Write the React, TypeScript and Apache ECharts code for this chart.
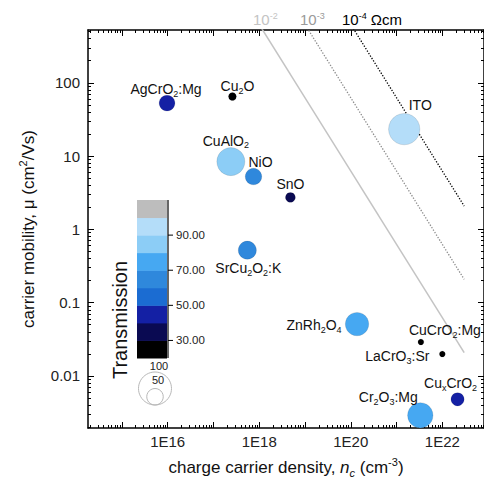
import React, { useEffect, useRef } from 'react';
import * as echarts from 'echarts';

// ---------------- data ----------------
const materials = ['AgCrO2:Mg', 'Cu2O', 'CuAlO2', 'NiO', 'SnO', 'ITO', 'SrCu2O2:K', 'ZnRh2O4', 'CuCrO2:Mg', 'LaCrO3:Sr', 'CuxCrO2', 'Cr2O3:Mg'];
const labelTexts = ['AgCrO{s|2}:Mg', 'Cu{s|2}O', 'CuAlO{s|2}', 'NiO', 'SnO', 'ITO', 'SrCu{s|2}O{s|2}:K', 'ZnRh{s|2}O{s|4}', 'CuCrO{s|2}:Mg', 'LaCrO{s|3}:Sr', 'Cu{s|x}CrO{s|2}', 'Cr{s|2}O{s|3}:Mg'];
const density = [9.7e15, 2.6e17, 2.4e17, 7.5e17, 4.8e18, 1.47e21, 5.5e17, 1.37e20, 3.4e21, 1.0e22, 2.15e22, 3.3e21]; // cm^-3
const mobility = [52.8, 65, 8.4, 5.25, 2.73, 23.3, 0.52, 0.051, 0.029, 0.0199, 0.0048, 0.0029]; // cm2/Vs
const transmission = [45, 25, 85, 62, 35, 95, 62, 75, 25, 25, 45, 75]; // %
const sizeValue = [48, 24, 85, 50, 30, 95, 55, 71, 18, 18, 40, 77];

const resistivity = [1e-2, 1e-3, 1e-4]; // Ohm cm
const resistivityLabels = ['10{sup|-2}', '10{sup|-3}', '10{sup|-4} Ωcm'];
const lineDensityRange = [1e17, 3e22];
const ELEMENTARY_CHARGE = 1.602e-19;

const xTickValues = [16, 18, 20, 22];
const xTickLabels = ['1E16', '1E18', '1E20', '1E22'];
const yTickValues = [-2, -1, 0, 1, 2];
const yTickLabels = ['0.01', '0.1', '1', '10', '100'];

const colorBounds = [20, 30, 40, 50, 60, 70, 80, 90, 100, 110];
const colorbarTickValues = [30, 50, 70, 90];
const colorbarTickLabels = ['30.00', '50.00', '70.00', '90.00'];
const sizeLegendValues = [100, 50];
const sizeLegendLabels = ['100', '50'];

// ---------------- styles ----------------
const FONT = "'Liberation Sans', Arial, Helvetica, sans-serif";
const bandColors = ['#000000', '#0a0a52', '#1420a4', '#1b6cd2', '#2f88dc', '#46a8f2', '#8ccdf6', '#b4ddf9', '#bdbdbd'];
const lineColors = ['#c4c4c4', '#8a8a8a', '#000000'];
const labelColors = ['#c4c4c4', '#9a9a9a', '#000000'];
const labelOffsets: number[][] = [
  [-1, -14], [5, -10], [-5, -21], [7, -15], [0, -13], [16, -24],
  [1, 18], [-43, 1], [24, -12], [-45, 2], [-7, -16], [-32, -18],
];
const resLabelPos: number[][] = [[253, 19], [300, 19], [342, 19]];
const SIZE_SCALE = 0.33;

const X_MIN = 14.26, X_MAX = 22.91;
const Y_MIN = -2.71, Y_MAX = 2.72;
const GRID = { left: 88, top: 30, width: 398, height: 398 };

const log10 = (v: number) => Math.log10(v);

function decadeMinors(lo: number, hi: number) {
  const out: number[] = [];
  for (let d = Math.floor(lo); d <= Math.ceil(hi); d++) {
    for (let k = 2; k <= 9; k++) {
      const v = d + Math.log10(k);
      if (v > lo && v < hi) out.push(v);
    }
  }
  return out;
}
function decadeMajors(lo: number, hi: number) {
  const out: number[] = [];
  for (let d = Math.ceil(lo); d <= Math.floor(hi); d++) out.push(d);
  return out;
}

export default function App() {
  const ref = useRef<HTMLDivElement>(null);
  useEffect(() => {
    if (!ref.current) return;
    const chart = echarts.init(ref.current, undefined, { renderer: 'svg' });

    const xMaj = decadeMajors(X_MIN, X_MAX);
    const xMin = decadeMinors(X_MIN, X_MAX);
    const yMaj = decadeMajors(Y_MIN, Y_MAX);
    const yMin = decadeMinors(Y_MIN, Y_MAX);

    const mkX = (position: string, ticks: number[], len: number, showLine: boolean, withLabels: boolean, extra: any = {}) => ({
      type: 'value', position, min: X_MIN, max: X_MAX, gridIndex: 0,
      axisLine: { show: showLine, onZero: false, lineStyle: { color: '#000', width: 1.5 } },
      axisTick: { show: true, inside: true, length: len, customValues: ticks, lineStyle: { color: '#000', width: 1 } },
      axisLabel: withLabels
        ? { show: true, customValues: xTickValues, formatter: (v: number) => xTickLabels[xTickValues.indexOf(Math.round(v))] ?? '', fontSize: 15, fontFamily: FONT, color: '#222', margin: 6 }
        : { show: false },
      splitLine: { show: false },
      ...extra,
    });
    const mkY = (position: string, ticks: number[], len: number, showLine: boolean, withLabels: boolean, extra: any = {}) => ({
      type: 'value', position, min: Y_MIN, max: Y_MAX, gridIndex: 0,
      axisLine: { show: showLine, onZero: false, lineStyle: { color: '#000', width: 1.5 } },
      axisTick: { show: true, inside: true, length: len, customValues: ticks, lineStyle: { color: '#000', width: 1 } },
      axisLabel: withLabels
        ? { show: true, customValues: yTickValues, formatter: (v: number) => yTickLabels[yTickValues.indexOf(Math.round(v))] ?? '', fontSize: 15, fontFamily: FONT, color: '#222', margin: 8 }
        : { show: false },
      splitLine: { show: false },
      ...extra,
    });

    const xAxes = [
      mkX('bottom', xMaj, 6, true, true, {
        name: 'charge carrier density, {i|n}{ic|c} (cm{sup|-3})',
        nameLocation: 'middle', nameGap: 28,
        nameTextStyle: {
          fontSize: 17, fontFamily: FONT, color: '#111', lineHeight: 22,
          rich: {
            i: { fontSize: 17, fontFamily: FONT, fontStyle: 'italic', color: '#111', lineHeight: 22 },
            ic: { fontSize: 11, fontFamily: FONT, fontStyle: 'italic', color: '#111', lineHeight: 10, verticalAlign: 'bottom' },
            sup: { fontSize: 11, fontFamily: FONT, color: '#111', lineHeight: 10, verticalAlign: 'top' },
          },
        },
      }),
      mkX('bottom', xMin, 3, false, false),
      mkX('top', xMaj, 6, true, false),
      mkX('top', xMin, 3, false, false),
    ];
    const yAxes = [
      mkY('left', yMaj, 6, true, true, {
        name: 'carrier mobility, μ (cm{sup|2}/Vs)',
        nameLocation: 'middle', nameGap: 30, nameRotate: 90,
        nameTextStyle: {
          fontSize: 17, fontFamily: FONT, color: '#111', lineHeight: 22,
          rich: {
            sup: { fontSize: 11, fontFamily: FONT, color: '#111', lineHeight: 10, verticalAlign: 'top' },
          },
        },
      }),
      mkY('left', yMin, 3, false, false),
      mkY('right', yMaj, 6, true, false),
      mkY('right', yMin, 3, false, false),
    ];

    const lineSeries = resistivity.map((rho, i) => ({
      type: 'line',
      xAxisIndex: 0, yAxisIndex: 0,
      name: resistivityLabels[i],
      showSymbol: false, symbol: 'none', silent: true, z: 1,
      clip: true,
      data: lineDensityRange.map((n) => [log10(n), log10(1 / (ELEMENTARY_CHARGE * rho * n))]),
      lineStyle: {
        color: lineColors[i],
        width: i === 0 ? 1.5 : 1.3,
        type: i === 0 ? 'solid' : [1.3, 1.6],
      },
    }));

    const scatter = {
      type: 'scatter',
      xAxisIndex: 0, yAxisIndex: 0, z: 3,
      symbol: 'circle',
      symbolSize: (v: number[]) => v[3] * SIZE_SCALE,
      itemStyle: { borderColor: 'rgba(0,0,0,0.18)', borderWidth: 0.6, opacity: 1 },
      label: {
        show: true,
        position: 'inside',
        formatter: (p: any) => labelTexts[p.dataIndex],
        fontSize: 14, fontFamily: FONT, color: '#111', lineHeight: 18,
        rich: {
          s: { fontSize: 9, fontFamily: FONT, color: '#111', lineHeight: 10, verticalAlign: 'bottom' },
        },
      },
      labelLayout: (p: any) => ({
        dx: labelOffsets[p.dataIndex][0],
        dy: labelOffsets[p.dataIndex][1],
        hideOverlap: false,
      }),
      data: density.map((n, i) => ({
        name: materials[i],
        value: [log10(n), log10(mobility[i]), transmission[i], sizeValue[i]],
      })),
    };

    // colorbar graphics
    const cbX = 137, cbW = 30, cbTop = 200, cbBottom = 358;
    const nBands = bandColors.length;
    const bandH = (cbBottom - cbTop) / nBands;
    const valToY = (v: number) => cbBottom - ((v - colorBounds[0]) / 10) * bandH;
    const graphics: any[] = [];
    bandColors.forEach((c, i) => {
      graphics.push({
        type: 'rect', silent: true,
        shape: { x: cbX, y: cbBottom - (i + 1) * bandH, width: cbW, height: bandH + 0.5 },
        style: { fill: c },
      });
    });
    graphics.push({ type: 'line', silent: true, shape: { x1: cbX + cbW + 1, y1: cbTop, x2: cbX + cbW + 1, y2: cbBottom }, style: { stroke: '#000', lineWidth: 1.2 } });
    colorbarTickValues.forEach((v, i) => {
      const y = valToY(v);
      graphics.push({ type: 'line', silent: true, shape: { x1: cbX + cbW + 1, y1: y, x2: cbX + cbW + 6, y2: y }, style: { stroke: '#000', lineWidth: 1 } });
      graphics.push({ type: 'text', silent: true, x: cbX + cbW + 9, y, style: { text: colorbarTickLabels[i], fontSize: 11.5, fontFamily: FONT, fill: '#222', textAlign: 'left', textVerticalAlign: 'middle' } });
    });
    graphics.push({ type: 'text', silent: true, x: 120, y: 320, rotation: Math.PI / 2, style: { text: 'Transmission', fontSize: 20, fontFamily: FONT, fill: '#111', textAlign: 'center', textVerticalAlign: 'middle' } });

    // size legend
    const legendCx = 155, legendBottom = 405;
    sizeLegendValues.forEach((v) => {
      const r = (v * SIZE_SCALE) / 2;
      graphics.push({ type: 'circle', silent: true, shape: { cx: legendCx, cy: legendBottom - r, r }, style: { fill: 'none', stroke: '#b8b8b8', lineWidth: 1 } });
    });
    graphics.push({ type: 'text', silent: true, x: 159, y: 366, style: { text: sizeLegendLabels[0], fontSize: 11, fontFamily: FONT, fill: '#222', textAlign: 'center', textVerticalAlign: 'middle' } });
    graphics.push({ type: 'text', silent: true, x: 158, y: 380, style: { text: sizeLegendLabels[1], fontSize: 11, fontFamily: FONT, fill: '#222', textAlign: 'center', textVerticalAlign: 'middle' } });

    // resistivity labels
    resistivityLabels.forEach((t, i) => {
      graphics.push({
        type: 'text', silent: true, x: resLabelPos[i][0], y: resLabelPos[i][1],
        style: {
          text: t, fontSize: 15, fontFamily: FONT, fill: labelColors[i], textAlign: 'left', textVerticalAlign: 'middle',
          rich: { sup: { fontSize: 9, fontFamily: FONT, fill: labelColors[i], lineHeight: 9, verticalAlign: 'top' } },
        },
      });
    });

    const pieces = bandColors.map((c, i) => ({ gte: colorBounds[i], lt: colorBounds[i + 1], color: c }));

    chart.setOption({
      animation: false,
      backgroundColor: '#fff',
      grid: { ...GRID, containLabel: false },
      xAxis: xAxes,
      yAxis: yAxes,
      visualMap: { type: 'piecewise', show: false, dimension: 2, seriesIndex: 3, pieces },
      series: [...lineSeries, scatter],
      graphic: graphics,
    } as any);

    return () => chart.dispose();
  }, []);

  return <div ref={ref} style={{ position: 'fixed', left: 0, top: 0, width: 484, height: 495 }} />;
}
